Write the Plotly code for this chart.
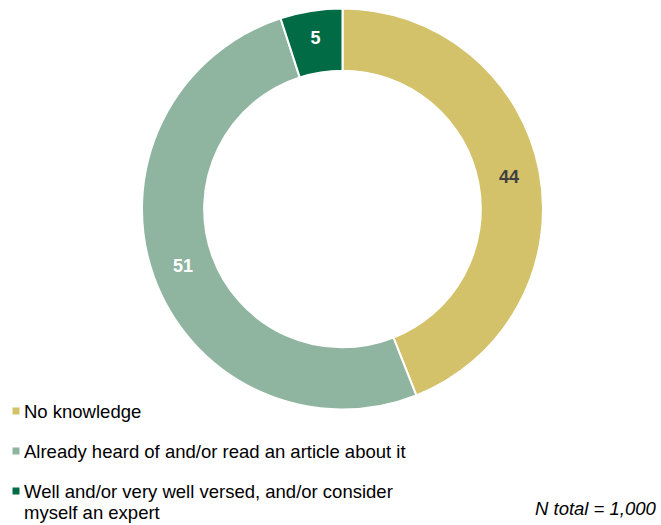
import plotly.graph_objects as go

# ---- data ----
categories = [
    "No knowledge",
    "Already heard of and/or read an article about it",
    "Well and/or very well versed, and/or consider<br>myself an expert",
]
values = [44, 51, 5]
colors = ["#D3C26A", "#8FB5A0", "#006B44"]
label_colors = ["#404040", "#FFFFFF", "#FFFFFF"]
note = "<i>N total = 1,000</i>"

W, H = 661, 525
FONT = "Arial, Liberation Sans, sans-serif"


def px(x):
    return x / W


def py(y):
    return 1 - y / H


fig = go.Figure()
fig.add_trace(go.Pie(
    labels=categories,
    values=values,
    hole=0.69,
    sort=False,
    direction="clockwise",
    rotation=0,
    marker=dict(colors=colors, line=dict(color="white", width=2)),
    texttemplate="%{value}",
    textposition="inside",
    insidetextorientation="horizontal",
    textfont=dict(family=FONT, size=18, color=label_colors, weight="bold"),
    hoverinfo="label+value",
    showlegend=False,
    domain=dict(x=[px(142), px(543)], y=[py(410), py(8)]),
))

# manual legend
row_y = [411, 451, 491]
line_gap = 21
shapes = []
annotations = []
for i, (cat, col) in enumerate(zip(categories, colors)):
    yc = row_y[i]
    shapes.append(dict(type="rect", xref="paper", yref="paper",
                       x0=px(12.5), x1=px(19.5), y0=py(yc + 3.5), y1=py(yc - 3.5),
                       fillcolor=col, line=dict(width=0)))
    for j, line in enumerate(cat.split("<br>")):
        annotations.append(dict(xref="paper", yref="paper", x=px(22),
                                y=py(yc + j * line_gap),
                                xanchor="left", yanchor="middle", align="left",
                                text=line, showarrow=False,
                                font=dict(family=FONT, size=18.5, color="#000000")))

annotations.append(dict(xref="paper", yref="paper", x=px(659), y=py(508),
                        xanchor="right", yanchor="middle", text=note, showarrow=False,
                        font=dict(family=FONT, size=18.5, color="#000000")))

fig.update_layout(
    width=W, height=H,
    margin=dict(l=0, r=0, t=0, b=0),
    paper_bgcolor="white",
    plot_bgcolor="white",
    shapes=shapes,
    annotations=annotations,
)

fig.write_html(
    "out.html",
    config={"displayModeBar": False},
    post_script="document.body.style.margin='0';document.body.style.overflow='hidden';",
)
